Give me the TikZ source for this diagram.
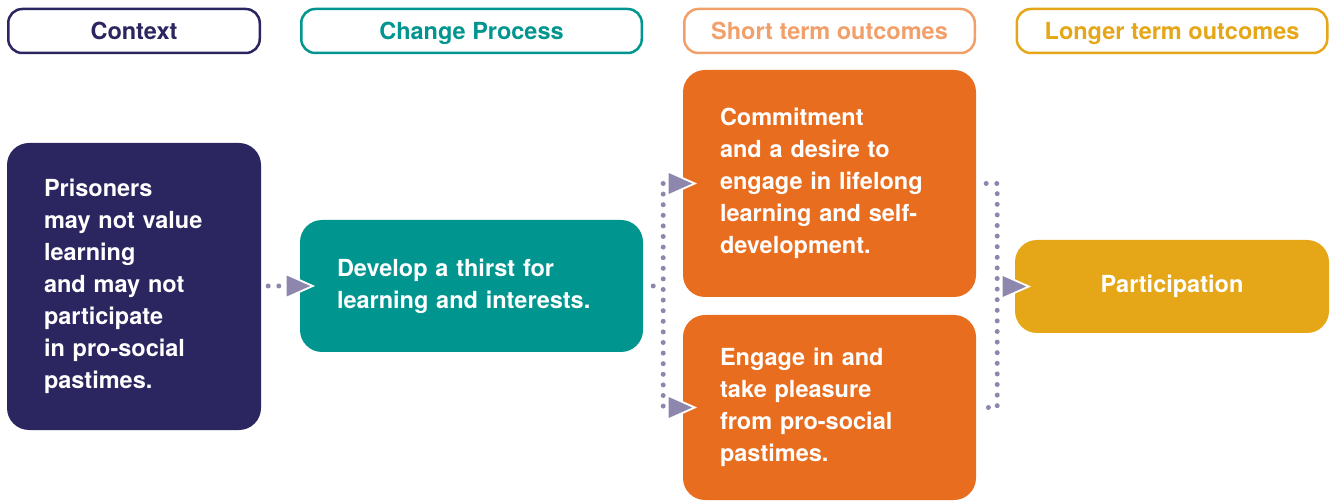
\documentclass[tikz,border=0pt]{standalone}
\usepackage{fontspec}
\setmainfont{TeX Gyre Heros}
\definecolor{navy}{HTML}{2B2560}
\definecolor{teal}{HTML}{00968F}
\definecolor{orng}{HTML}{E86D1F}
\definecolor{lorng}{HTML}{F1A06C}
\definecolor{gold}{HTML}{E5A717}
\definecolor{dotc}{HTML}{8D87AD}
\newcommand\arrtri[1]{\draw[tri] (#1) -- ++(-27,-12) -- ++(0,24) -- cycle;}
\begin{document}
\begin{tikzpicture}[x=1pt,y=-1pt,
  txt/.style={font=\bfseries\fontsize{23.5}{32}\selectfont},
  hdr/.style={txt, draw=#1, text=#1, fill=white, line width=2.5pt, rounded corners=14pt,
    inner sep=0pt, minimum height=44pt, text height=17pt, text depth=0pt},
  body/.style={txt, fill=#1, text=white, rounded corners=22pt, align=left,
    inner xsep=37pt, inner ysep=0pt},
  dotline/.style={draw=dotc, line width=5pt, line cap=round, dash pattern=on 0pt off 10.6pt},
  tri/.style={fill=dotc, draw=white, line width=1.8pt, line join=miter}
]
\useasboundingbox (0,0) rectangle (1330,502);

% headers
\node[hdr=navy, minimum width=251.5pt] (hctx) at (134,31) {Context};
\node[hdr=teal, minimum width=340.5pt] (hcp) at (471.5,31) {Change Process};
\node[hdr=lorng, minimum width=290.5pt] (hst) at (829.5,31) {Short term outcomes};
\node[hdr=gold, minimum width=310.5pt] (hlt) at (1172,31) {Longer term outcomes};

% bodies
\node[body=navy, minimum width=254pt, minimum height=287pt, text width=180pt] (ctx) at (134,286.5)
  {Prisoners\\may not value\\learning\\and may not\\participate\\in pro-social\\pastimes.};
\node[body=teal, minimum width=343pt, minimum height=132pt, text width=269pt, inner xsep=37pt] (cp) at (471.5,286)
  {Develop a thirst for\\learning and interests.};
\node[body=orng, minimum width=293pt, minimum height=227pt, text width=219pt] (com) at (829.5,183.5)
  {Commitment\\and a desire to\\engage in lifelong\\learning and self-\\development.};
\node[body=orng, minimum width=293pt, minimum height=185pt, text width=219pt] (eng) at (829.5,407.5)
  {Engage in and\\take pleasure\\from pro-social\\pastimes.};
\node[body=gold, minimum width=314pt, minimum height=93pt, align=center, inner xsep=0pt] (par) at (1172,286.5)
  {Participation};

% connector: context -> change process
\draw[dotline] ([xshift=7pt]ctx.east |- cp.west) -- ([xshift=-21pt]cp.west);
\arrtri{[xshift=13pt]cp.west}

% connector: change process -> short term outcomes
\coordinate (j1) at ([xshift=20pt]cp.east);
\draw[dotline] ([xshift=10pt]cp.east) -- (j1);
\draw[dotline] (j1 |- com.west) -- (j1 |- eng.west);
\arrtri{[xshift=12pt]com.west}
\arrtri{[xshift=12pt]eng.west}

% connector: short term -> longer term
\coordinate (j2) at ([xshift=21pt]com.east);
\draw[dotline] ([xshift=10pt]com.east) -- (j2 |- com.east) -- (j2 |- eng.east) -- ([xshift=10pt]eng.east);
\arrtri{[xshift=14pt]par.west}
\end{tikzpicture}
\end{document}
